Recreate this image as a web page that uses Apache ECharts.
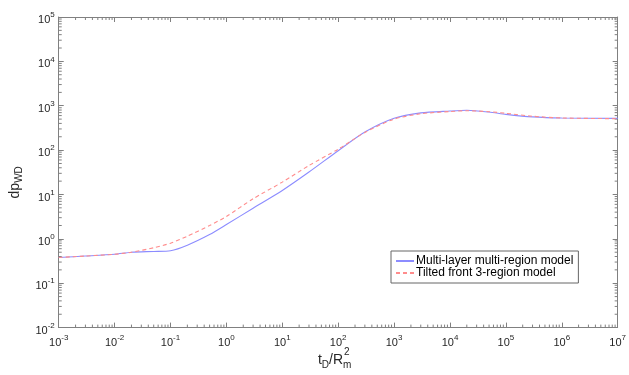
<!DOCTYPE html>
<html>
<head>
<meta charset="utf-8">
<script src="https://cdn.jsdelivr.net/npm/echarts@6/dist/echarts.min.js"></script>
<style>
  html, body { margin: 0; padding: 0; background: #fff; }
  #chart { width: 629px; height: 375px; }
</style>
</head>
<body>
<div id="chart"></div>
<script>
// Dimensionless time t_D/R_m^2
const timeBlue = [0.001, 0.003, 0.01, 0.02, 0.05, 0.1, 0.2, 0.5, 1, 3, 10, 30, 100, 300, 1000, 3000, 10000, 20000, 50000, 1e5, 3e5, 1e6, 1e7]
const pwdBlue = [0.38, 0.41, 0.45, 0.50, 0.52, 0.54, 0.72, 1.25, 2.1, 4.9, 12.3, 32, 97, 255, 520, 690, 760, 790, 720, 640, 560, 530, 520]

const timeRed = [0.001, 0.003, 0.01, 0.02, 0.05, 0.1, 0.2, 0.5, 1, 3, 10, 30, 100, 300, 1000, 3000, 10000, 20000, 50000, 1e5, 3e5, 1e6, 1e7]
const pwdRed = [0.38, 0.41, 0.45, 0.50, 0.63, 0.80, 1.15, 2.0, 3.2, 8.0, 19, 45, 105, 250, 500, 660, 740, 770, 735, 675, 580, 530, 510]

const seriesNames = ['Multi-layer multi-region model', 'Tilted front 3-region model']

const X_MIN = 1e-3
const X_MAX = 1e7
const Y_MIN = 1e-2
const Y_MAX = 1e5

const COLOR_BLUE = '#8c8cff'
const COLOR_RED = '#ff8c8c'
const COLOR_AXIS = '#808080'
const COLOR_TEXT = '#262626'
const FONT = 'Liberation Sans, Arial, sans-serif'

// minor tick values (2..9 per decade) for the log axes
const minorTicks = (lo, hi) => {
  const out = []
  for (let e = lo; e < hi; e++) {
    for (let m = 2; m <= 9; m++) out.push(m * Math.pow(10, e))
  }
  return out
}
const xMinor = minorTicks(-3, 7)
const yMinor = minorTicks(-2, 5)

const powLabel = (v) => '{b|10}{e|' + Math.round(Math.log10(v)) + '}'
const powRich = {
  b: { fontSize: 11, fontFamily: FONT, color: COLOR_TEXT, padding: [6, 0, 0, 0] },
  e: { fontSize: 8, fontFamily: FONT, color: COLOR_TEXT, padding: [0, 0, 4, 0] },
}

const chart = echarts.init(document.getElementById('chart'))

const baseAxis = {
  type: 'log',
  logBase: 10,
  interval: 1,
  axisLine: { show: true, lineStyle: { color: COLOR_AXIS, width: 1 } },
  axisTick: { show: true, inside: true, length: 5, lineStyle: { color: COLOR_AXIS } },
  splitLine: { show: false },
}

chart.setOption({
  animation: false,
  backgroundColor: '#fff',
  grid: { left: 52, right: 5, top: 17, bottom: 40 },
  xAxis: [
    {
      ...baseAxis,
      min: X_MIN,
      max: X_MAX,
      position: 'bottom',
      axisLabel: { margin: 4, formatter: powLabel, rich: powRich },
      name: '{n|t}{s|D}{n|/R}{s|m}',
      nameLocation: 'middle',
      nameGap: 22,
      nameTextStyle: {
        padding: [0, 7, 0, 0],
        rich: {
          n: { fontSize: 14, fontFamily: FONT, color: COLOR_TEXT },
          s: { fontSize: 10, fontFamily: FONT, color: COLOR_TEXT, padding: [9, 0, 0, 0] },
        },
      },
    },
    {
      ...baseAxis,
      min: X_MIN,
      max: X_MAX,
      position: 'top',
      axisLabel: { show: false },
    },
  ],
  yAxis: [
    {
      ...baseAxis,
      min: Y_MIN,
      max: Y_MAX,
      position: 'left',
      axisLabel: { margin: 4, formatter: powLabel, rich: powRich },
      name: '{n|dp}{s|WD}',
      nameLocation: 'middle',
      nameGap: 26,
      nameTextStyle: {
        padding: [0, 20, 0, 0],
        rich: {
          n: { fontSize: 14, fontFamily: FONT, color: COLOR_TEXT },
          s: { fontSize: 10, fontFamily: FONT, color: COLOR_TEXT, padding: [9, 0, 0, 0] },
        },
      },
    },
    {
      ...baseAxis,
      min: Y_MIN,
      max: Y_MAX,
      position: 'right',
      axisLabel: { show: false },
    },
  ],
  legend: {
    data: seriesNames,
    orient: 'vertical',
    left: 391,
    top: 251,
    padding: [4, 5, 4, 4],
    itemGap: 0,
    itemWidth: 18,
    itemHeight: 12,
    itemStyle: { opacity: 0 },
    backgroundColor: '#fff',
    borderColor: '#666',
    borderWidth: 1,
    borderRadius: 0,
    textStyle: { fontSize: 12, fontFamily: FONT, color: '#000', padding: [0, 0, 0, -3] },
  },
  graphic: [
    // superscript 2 over the subscript m in the x-axis title
    {
      type: 'text',
      left: 344,
      top: 347,
      style: { text: '2', fontSize: 10, fontFamily: FONT, fill: COLOR_TEXT },
    },
  ],
  series: [
    {
      name: seriesNames[0],
      type: 'line',
      symbol: 'none',
      smooth: 0.25,
      lineStyle: { color: COLOR_BLUE, width: 1.1 },
      itemStyle: { color: COLOR_BLUE },
      data: timeBlue.map((t, i) => [t, pwdBlue[i]]),
      z: 2,
    },
    {
      name: seriesNames[1],
      type: 'line',
      symbol: 'none',
      smooth: 0.25,
      lineStyle: { color: COLOR_RED, width: 1.1, type: [4, 3] },
      itemStyle: { color: COLOR_RED },
      data: timeRed.map((t, i) => [t, pwdRed[i]]),
      z: 3,
    },
    {
      // x minor ticks, bottom and top
      type: 'custom',
      silent: true,
      clip: false,
      data: xMinor.map((v) => [v, Y_MIN]),
      renderItem: (params, api) => {
        const v = api.value(0)
        const b = api.coord([v, Y_MIN])
        const t = api.coord([v, Y_MAX])
        const style = { stroke: COLOR_AXIS, lineWidth: 1 }
        return {
          type: 'group',
          children: [
            { type: 'line', shape: { x1: b[0], y1: b[1], x2: b[0], y2: b[1] - 3 }, style },
            { type: 'line', shape: { x1: t[0], y1: t[1], x2: t[0], y2: t[1] + 3 }, style },
          ],
        }
      },
    },
    {
      // y minor ticks, left and right
      type: 'custom',
      silent: true,
      clip: false,
      data: yMinor.map((v) => [X_MIN, v]),
      renderItem: (params, api) => {
        const v = api.value(1)
        const l = api.coord([X_MIN, v])
        const r = api.coord([X_MAX, v])
        const style = { stroke: COLOR_AXIS, lineWidth: 1 }
        return {
          type: 'group',
          children: [
            { type: 'line', shape: { x1: l[0], y1: l[1], x2: l[0] + 3, y2: l[1] }, style },
            { type: 'line', shape: { x1: r[0], y1: r[1], x2: r[0] - 3, y2: r[1] }, style },
          ],
        }
      },
    },
  ],
})
</script>
</body>
</html>
